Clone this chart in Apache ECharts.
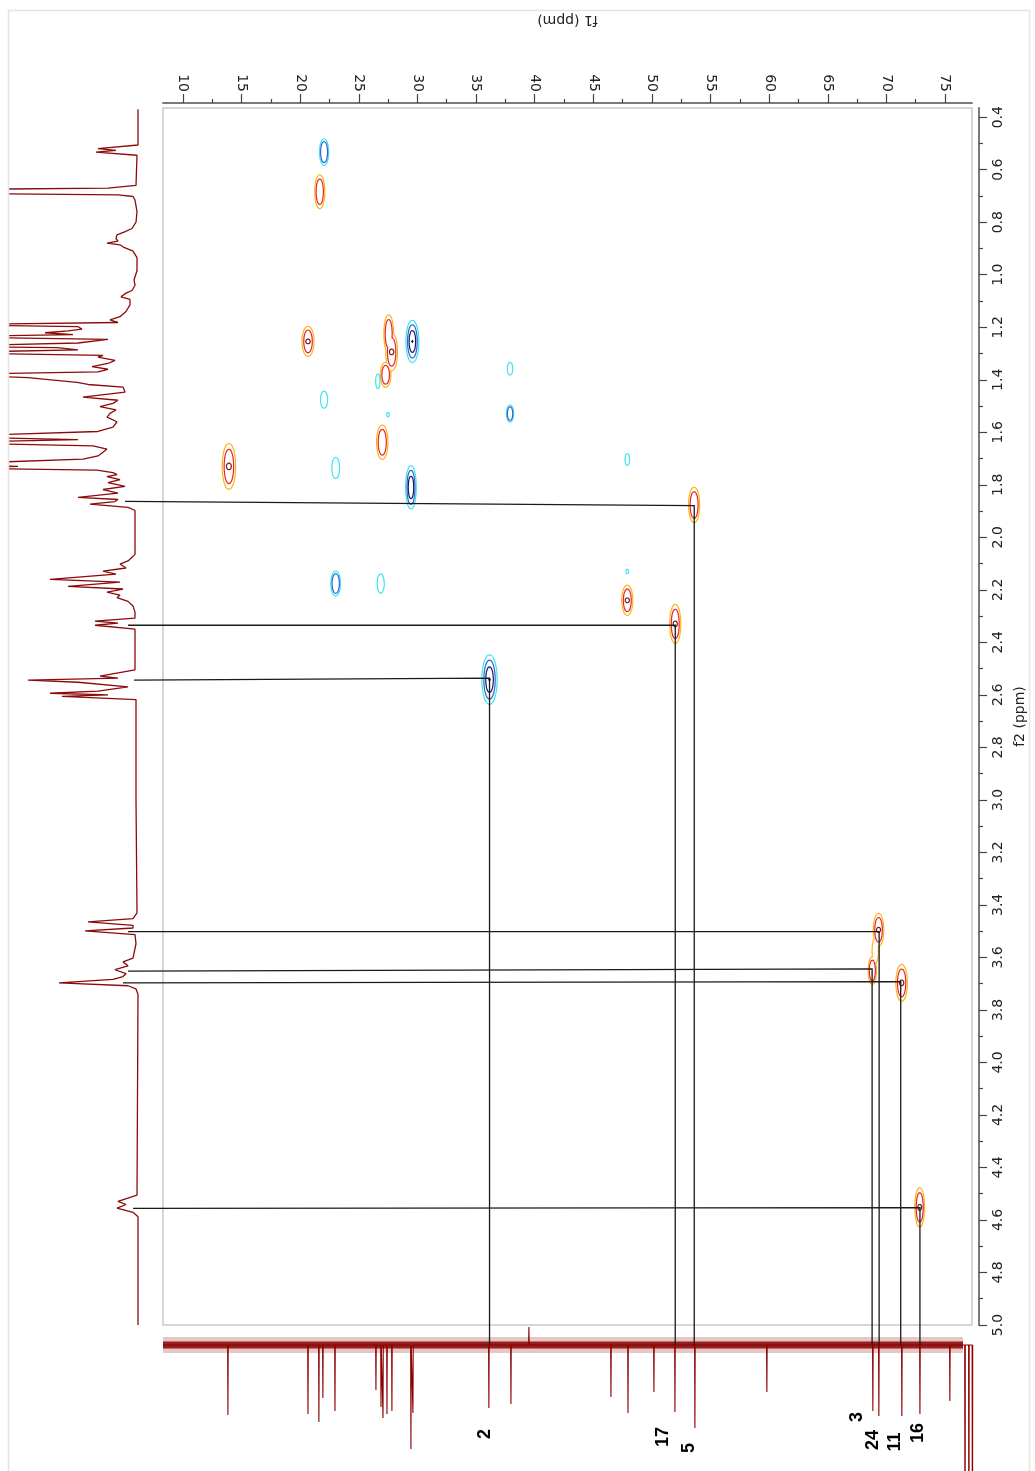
<!DOCTYPE html>
<html>
<head>
<meta charset="utf-8">
<script src="https://cdn.jsdelivr.net/npm/echarts@6/dist/echarts.min.js"></script>
<style>
  html, body { margin: 0; padding: 0; background: #ffffff; }
  #chart { width: 1035px; height: 1471px; }
</style>
</head>
<body>
<div id="chart"></div>
<script>
// ---- Axis ticks (ppm) ----
const f1Ticks = [10, 15, 20, 25, 30, 35, 40, 45, 50, 55, 60, 65, 70, 75];
const f1Minor = [12.5, 17.5, 22.5, 27.5, 32.5, 37.5, 42.5, 47.5, 52.5, 57.5, 62.5, 67.5, 72.5];
const f2Ticks = [0.4, 0.6, 0.8, 1.0, 1.2, 1.4, 1.6, 1.8, 2.0, 2.2, 2.4, 2.6, 2.8, 3.0,
                 3.2, 3.4, 3.6, 3.8, 4.0, 4.2, 4.4, 4.6, 4.8, 5.0];
const f2Minor = [0.5, 0.7, 0.9, 1.1, 1.3, 1.5, 1.7, 1.9, 2.1, 2.3, 2.5, 2.7, 2.9, 3.1,
                 3.3, 3.5, 3.7, 3.9, 4.1, 4.3, 4.5, 4.7, 4.9];

// ---- 1H projection: [ppm, intensity]; peaks above 130 run off scale ----
const hTrace = [
  [0.370, 0], [0.506, 0], [0.520, 40], [0.526, 22], [0.533, 42], [0.545, 1],
  [0.660, 2], [0.670, 30], [0.676, 200], [0.690, 200], [0.696, 20], [0.702, 5], [0.716, 3],
  [0.760, 1], [0.800, 2], [0.824, 6], [0.838, 14], [0.848, 21], [0.862, 22], [0.872, 20],
  [0.880, 31], [0.886, 18], [0.896, 14], [0.910, 5], [0.935, 1],
  [0.985, 1], [1.020, 4], [1.040, 3], [1.060, 6], [1.070, 12], [1.084, 17], [1.094, 8],
  [1.115, 8], [1.140, 12], [1.160, 18], [1.172, 28], [1.182, 20],
  [1.190, 200], [1.198, 60], [1.207, 56], [1.214, 70], [1.221, 93], [1.228, 65],
  [1.236, 200], [1.246, 30], [1.260, 60],
  [1.272, 200], [1.278, 81], [1.286, 60], [1.297, 200], [1.307, 35], [1.314, 40],
  [1.326, 23], [1.338, 30], [1.350, 46], [1.360, 30], [1.370, 40],
  [1.380, 200], [1.392, 110], [1.410, 61], [1.418, 50], [1.428, 15], [1.447, 13],
  [1.466, 55], [1.478, 20], [1.490, 25], [1.502, 38], [1.515, 22], [1.528, 28],
  [1.542, 31], [1.560, 21], [1.580, 25], [1.597, 40],
  [1.617, 200], [1.628, 60], [1.640, 200], [1.652, 45], [1.664, 31], [1.676, 35],
  [1.690, 40], [1.702, 55], [1.722, 200], [1.730, 120], [1.736, 200], [1.744, 41],
  [1.754, 25], [1.761, 21], [1.769, 31], [1.780, 18], [1.792, 30], [1.806, 13],
  [1.818, 35], [1.832, 20], [1.848, 60], [1.856, 20], [1.864, 23], [1.874, 48],
  [1.886, 10], [1.898, 3],
  [1.935, 3], [2.065, 3], [2.090, 10], [2.102, 18], [2.117, 12], [2.129, 35],
  [2.140, 22], [2.160, 88], [2.171, 18], [2.187, 70], [2.197, 15], [2.209, 31],
  [2.220, 18], [2.230, 21], [2.244, 10], [2.262, 5], [2.285, 3], [2.308, 3],
  [2.319, 43], [2.327, 20], [2.335, 43], [2.350, 3], [2.505, 3],
  [2.529, 38], [2.536, 20], [2.544, 110], [2.552, 60], [2.570, 10], [2.586, 40],
  [2.594, 88], [2.600, 30], [2.606, 76], [2.618, 2],
  [3.000, 2], [3.430, 1], [3.452, 5], [3.465, 50], [3.478, 5], [3.488, 5],
  [3.499, 53], [3.513, 3], [3.548, 2], [3.603, 5], [3.617, 15], [3.632, 10],
  [3.647, 23], [3.662, 12], [3.673, 15], [3.684, 25], [3.697, 79], [3.708, 10],
  [3.720, 2], [3.740, 0],
  [4.505, 1], [4.529, 20], [4.541, 12], [4.555, 21], [4.571, 5], [4.588, 0], [5.000, 0]
];

// ---- 13C projection: [ppm, peak depth] (negative = upward) ----
const cPeaks = [
  [13.83, 70], [20.65, 69], [21.58, 77], [21.92, 53], [22.95, 66], [26.44, 45],
  [26.87, 62], [27.04, 73], [27.38, 69], [27.80, 66], [29.42, 104], [29.59, 68],
  [36.06, 63], [37.94, 59], [39.47, -18], [46.46, 52], [47.91, 68], [50.12, 47],
  [51.91, 67], [53.61, 83], [59.74, 47], [68.77, 66], [69.28, 71], [71.24, 71],
  [72.78, 69], [75.33, 56], [76.62, 300], [76.95, 300], [77.25, 300]
];

// ---- HSQC cross peaks: [f1, f2, halfWidthF1, halfWidthF2, phase, levels] ----
const crossPeaks = [
  [22.04, 0.533, 0.34, 0.048, -1, 2],
  [21.67, 0.684, 0.38, 0.062, 1, 2],
  [20.67, 1.254, 0.46, 0.055, 1, 3],
  [27.55, 1.225, 0.36, 0.070, 1, 2],
  [27.80, 1.294, 0.45, 0.070, 1, 3],
  [27.29, 1.381, 0.40, 0.045, 1, 2],
  [29.57, 1.254, 0.50, 0.078, -1, 4],
  [26.62, 1.406, 0.13, 0.025, -1, 1],
  [22.04, 1.476, 0.25, 0.030, -1, 1],
  [27.50, 1.533, 0.06, 0.006, -1, 1],
  [37.90, 1.358, 0.18, 0.022, -1, 1],
  [37.90, 1.529, 0.25, 0.030, -1, 2],
  [27.00, 1.638, 0.43, 0.063, 1, 2],
  [13.92, 1.730, 0.52, 0.085, 1, 3],
  [23.03, 1.736, 0.28, 0.038, -1, 1],
  [29.45, 1.810, 0.40, 0.080, -1, 3],
  [47.90, 1.704, 0.14, 0.020, -1, 1],
  [53.60, 1.877, 0.42, 0.065, 1, 2],
  [23.03, 2.176, 0.36, 0.045, -1, 2],
  [26.87, 2.176, 0.25, 0.034, -1, 1],
  [47.90, 2.130, 0.06, 0.006, -1, 1],
  [47.90, 2.240, 0.42, 0.055, 1, 3],
  [51.99, 2.330, 0.42, 0.072, 1, 3],
  [36.15, 2.542, 0.60, 0.092, -1, 4],
  [69.33, 3.495, 0.40, 0.060, 1, 3],
  [69.05, 3.575, 0.22, 0.045, 1, 1],
  [68.80, 3.650, 0.30, 0.050, 1, 2],
  [71.30, 3.697, 0.44, 0.068, 1, 3],
  [72.84, 4.552, 0.36, 0.072, 1, 3]
];

// ---- Assignments: carbon label, 13C shift, 1H shift at the cross peak / in the 1H trace ----
const annoLabels   = ['2', '17', '5', '3', '24', '11', '16'];
const annoF1       = [36.15, 51.99, 53.61, 68.78, 69.38, 71.22, 72.86];
const annoF2Cross  = [2.536, 2.335, 1.879, 3.644, 3.502, 3.692, 4.553];
const annoF2Start  = [2.544, 2.335, 1.863, 3.652, 3.502, 3.697, 4.556];
const annoHStart   = [4, 10, 13, 10, 10, 15, 5];

// label placement relative to the foot of each assignment line (px)
const LABEL_OFFSET = {
  '2': [-5, 89], '17': [-13, 92], '5': [-6, 103], '3': [-16, 72],
  '24': [-7, 95], '11': [-7, 97], '16': [-3, 88]
};

const TRACE_RED = '#8B0A0A';
const POS_COLORS = ['#FDB515', '#E3262A', '#7A1616'];
const NEG_COLORS = ['#3FE3F2', '#2F67C8', '#0E1A6E', '#050A40'];
const POS_SCALE = [[1, 1], [0.68, 0.74], [0.3, 0.12]];
const NEG_SCALE = [[1, 1], [0.72, 0.78], [0.45, 0.5], [0.12, 0.05]];
const FONT = '"DejaVu Sans", Verdana, sans-serif';

function ellipsePoints(cx, cy, a, b) {
  const pts = [];
  const n = 48;
  for (let i = 0; i < n; i++) {
    const t = (i / n) * Math.PI * 2;
    pts.push([cx + a * Math.cos(t), cy + b * Math.sin(t)]);
  }
  return pts;
}

// Nested contour levels; each level is stroked then filled white so
// overlapping peaks merge into one outline.
function renderContour(params, api) {
  const f1 = api.value(0), f2 = api.value(1);
  const rx = api.value(2), ry = api.value(3);
  const phase = api.value(4), levels = api.value(5);
  const c = api.coord([f1, f2]);
  const sz = api.size([rx * 2, ry * 2], [f1, f2]);
  const colors = phase > 0 ? POS_COLORS : NEG_COLORS;
  const scales = phase > 0 ? POS_SCALE : NEG_SCALE;
  const base = phase > 0 ? 0 : 20;
  const children = [];
  for (let k = 0; k < levels; k++) {
    const a = Math.max(sz[0] / 2 * scales[k][0], 0.6);
    const b = Math.max(sz[1] / 2 * scales[k][1], 0.6);
    const pts = ellipsePoints(c[0], c[1], a, b);
    const isCore = phase < 0 && k === 3;
    children.push({
      type: 'polygon', z2: base + 2 * k,
      shape: { points: pts },
      style: { fill: isCore ? colors[k] : 'none', stroke: colors[k], lineWidth: isCore ? 1 : 2.4 }
    });
    if (!isCore) {
      children.push({
        type: 'polygon', z2: base + 2 * k + 1,
        shape: { points: pts },
        style: { fill: '#ffffff', stroke: 'none' }
      });
    }
  }
  return { type: 'group', children: children };
}

// 13C trace built from its peak list
const cTrace = [[8.3, 0]];
cPeaks.forEach(function (p) {
  cTrace.push([p[0] - 0.025, 0], [p[0], p[1]], [p[0] + 0.025, 0]);
});
cTrace.push([77.3, 0]);

const labelStyle = { fontFamily: FONT, fontSize: 14, color: '#222' };

const chart = echarts.init(document.getElementById('chart'), null, { renderer: 'canvas' });

const option = {
  animation: false,
  backgroundColor: '#ffffff',
  grid: [
    { left: 163, top: 108, width: 810, height: 1217, show: true,
      borderColor: '#C9C9C9', borderWidth: 1.5, backgroundColor: 'transparent' },
    { left: 9, top: 108, width: 131, height: 1217 },
    { left: 163, top: 1327, width: 810, height: 144 }
  ],
  xAxis: [
    { gridIndex: 0, type: 'value', position: 'top', offset: 5, min: 8.3, max: 77.3,
      name: 'f1 (ppm)', nameLocation: 'middle', nameGap: 76, nameRotate: 180,
      nameTextStyle: { fontFamily: FONT, fontSize: 14, color: '#222' },
      axisLine: { show: true, onZero: false, lineStyle: { color: '#7A7A7A', width: 2 } },
      axisTick: { show: true, customValues: f1Ticks, length: 9, lineStyle: { color: '#444', width: 1.2 } },
      axisLabel: Object.assign({ customValues: f1Ticks, rotate: 90, margin: 11 }, labelStyle),
      splitLine: { show: false } },
    { gridIndex: 0, type: 'value', position: 'top', offset: 5, min: 8.3, max: 77.3,
      axisLine: { show: false, onZero: false },
      axisTick: { show: true, customValues: f1Minor, length: 4, lineStyle: { color: '#444', width: 1.2 } },
      axisLabel: { show: false }, splitLine: { show: false } },
    { gridIndex: 1, type: 'value', inverse: true, min: -2, max: 129, show: false },
    { gridIndex: 2, type: 'value', min: 8.3, max: 77.3, show: false }
  ],
  yAxis: [
    { gridIndex: 0, type: 'value', position: 'right', offset: 7, inverse: true, min: 0.365, max: 5.0,
      name: 'f2 (ppm)', nameLocation: 'middle', nameGap: 34, nameRotate: 90,
      nameTextStyle: { fontFamily: FONT, fontSize: 14, color: '#222' },
      axisLine: { show: true, onZero: false, lineStyle: { color: '#7A7A7A', width: 2 } },
      axisTick: { show: true, customValues: f2Ticks, length: 8, lineStyle: { color: '#444', width: 1.2 } },
      axisLabel: Object.assign({ customValues: f2Ticks, rotate: 90, margin: 12,
        formatter: function (v) { return Number(v).toFixed(1); } }, labelStyle),
      splitLine: { show: false } },
    { gridIndex: 0, type: 'value', position: 'right', offset: 7, inverse: true, min: 0.365, max: 5.0,
      axisLine: { show: false, onZero: false },
      axisTick: { show: true, customValues: f2Minor, length: 4, lineStyle: { color: '#444', width: 1.2 } },
      axisLabel: { show: false }, splitLine: { show: false } },
    { gridIndex: 1, type: 'value', inverse: true, min: 0.365, max: 5.0, show: false },
    { gridIndex: 2, type: 'value', inverse: true, min: -18, max: 126, show: false }
  ],
  series: [
    { type: 'custom', name: 'HSQC', xAxisIndex: 0, yAxisIndex: 0, clip: true, silent: true,
      renderItem: renderContour, data: crossPeaks, z: 3 },
    { type: 'line', name: '1H', xAxisIndex: 2, yAxisIndex: 2, clip: true, silent: true,
      showSymbol: false, symbol: 'none',
      lineStyle: { color: TRACE_RED, width: 1.3 },
      data: hTrace.map(function (p) { return [p[1], p[0]]; }) },
    // 13C baseline noise drawn as a soft outer band with a denser core
    { type: 'line', name: '13C noise', xAxisIndex: 3, yAxisIndex: 3, clip: true, silent: true,
      showSymbol: false, symbol: 'none',
      lineStyle: { color: '#8B0000', width: 16, opacity: 0.22 },
      data: [[8.3, 0], [76.45, 0]] },
    { type: 'line', name: '13C baseline', xAxisIndex: 3, yAxisIndex: 3, clip: true, silent: true,
      showSymbol: false, symbol: 'none',
      lineStyle: { color: '#8B0000', width: 7, opacity: 0.85 },
      data: [[8.3, 0], [76.45, 0]] },
    { type: 'line', name: '13C', xAxisIndex: 3, yAxisIndex: 3, clip: true, silent: true,
      showSymbol: false, symbol: 'none',
      lineStyle: { color: '#8B0000', width: 1.1 },
      data: cTrace }
  ]
};

chart.setOption(option);

// Assignment lines: 1H trace -> cross peak -> 13C trace, with carbon numbers
const graphics = [{
  type: 'rect', z: 40, silent: true,
  shape: { x: 8.5, y: 10.5, width: 1021, height: 1475 },
  style: { fill: 'none', stroke: '#E4E4E4', lineWidth: 1.5 }
}];
annoLabels.forEach(function (lab, i) {
  const cross = chart.convertToPixel({ xAxisIndex: 0, yAxisIndex: 0 }, [annoF1[i], annoF2Cross[i]]);
  const start = chart.convertToPixel({ xAxisIndex: 2, yAxisIndex: 2 }, [annoHStart[i], annoF2Start[i]]);
  const foot = chart.convertToPixel({ xAxisIndex: 3, yAxisIndex: 3 }, [annoF1[i], 0]);
  graphics.push({
    type: 'polyline', z: 50, silent: true,
    shape: { points: [start, cross, [cross[0], foot[1]]] },
    style: { fill: 'none', stroke: '#1A1A1A', lineWidth: 1.3 }
  });
  const off = LABEL_OFFSET[lab];
  graphics.push({
    type: 'text', z: 50, silent: true,
    x: foot[0] + off[0], y: foot[1] + off[1], rotation: Math.PI / 2,
    style: { text: lab, fill: '#000000', font: 'bold 18px "Liberation Sans", Arial, sans-serif',
             align: 'center', verticalAlign: 'middle' }
  });
});
chart.setOption({ graphic: graphics });
</script>
</body>
</html>
